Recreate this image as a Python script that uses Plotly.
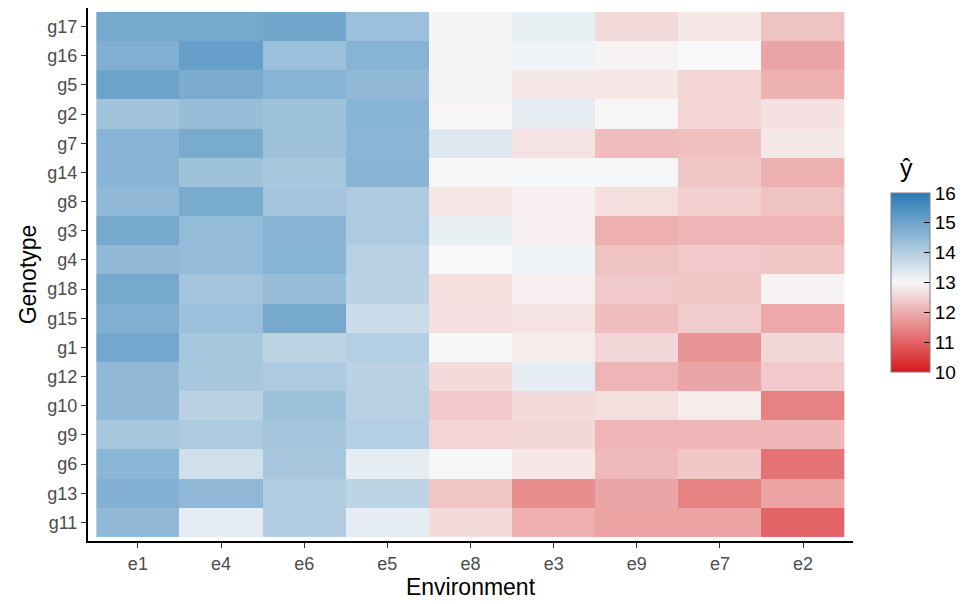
import plotly.graph_objects as go

environments = ["e1", "e4", "e6", "e5", "e8", "e3", "e9", "e7", "e2"]
genotypes_top_to_bottom = ["g17", "g16", "g5", "g2", "g7", "g14", "g8", "g3", "g4",
                           "g18", "g15", "g1", "g12", "g10", "g9", "g6", "g13", "g11"]

# predicted yield (y-hat), rows follow genotypes_top_to_bottom, columns follow environments
g17 = [15.4, 15.4, 15.5, 14.7, 13.1, 13.3, 12.5, 12.7, 12.1]
g16 = [15.2, 15.7, 14.7, 15.1, 13.1, 13.15, 12.9, 13.0, 11.6]
g5 = [15.6, 15.3, 15.1, 14.9, 13.1, 12.7, 12.7, 12.4, 11.8]
g2 = [14.6, 14.8, 14.65, 15.1, 12.95, 13.35, 12.95, 12.4, 12.6]
g7 = [15.05, 15.35, 14.65, 15.0, 13.5, 12.65, 12.0, 12.05, 12.7]
g14 = [15.05, 14.65, 14.5, 15.05, 13.02, 13.08, 13.08, 12.15, 11.8]
g8 = [14.9, 15.35, 14.55, 14.35, 12.7, 12.85, 12.55, 12.3, 12.1]
g3 = [15.4, 14.85, 15.05, 14.4, 13.3, 12.85, 11.75, 11.85, 11.85]
g4 = [14.9, 14.85, 15.1, 14.2, 13.0, 13.15, 12.1, 12.2, 12.15]
g18 = [15.4, 14.55, 14.8, 14.15, 12.55, 12.85, 12.2, 12.15, 12.92]
g15 = [15.2, 14.7, 15.4, 13.85, 12.6, 12.62, 12.0, 12.25, 11.65]
g1 = [15.45, 14.5, 14.1, 14.25, 12.97, 12.8, 12.45, 11.3, 12.45]
g12 = [14.9, 14.5, 14.35, 14.15, 12.5, 13.35, 11.85, 11.6, 12.2]
g10 = [14.9, 14.15, 14.65, 14.2, 12.2, 12.5, 12.55, 12.8, 11.0]
g9 = [14.5, 14.4, 14.55, 14.25, 12.4, 12.45, 11.85, 11.9, 11.9]
g6 = [15.0, 13.75, 14.5, 13.35, 12.97, 12.7, 11.95, 12.15, 10.75]
g13 = [15.15, 14.9, 14.3, 14.1, 12.15, 11.2, 11.6, 11.0, 11.55]
g11 = [14.9, 13.35, 14.3, 13.35, 12.5, 11.75, 11.55, 11.55, 10.5]

rows = [g17, g16, g5, g2, g7, g14, g8, g3, g4, g18, g15, g1, g12, g10, g9, g6, g13, g11]

# plotly puts the first category at the bottom, so reverse
y_cats = genotypes_top_to_bottom[::-1]
z = rows[::-1]

zmin, zmax = 10, 16
colorscale = [[0.0, "#D7191C"], [0.5, "#F7F7F7"], [1.0, "#2C7BB6"]]

FONT = "Liberation Sans, Arial, sans-serif"

fig = go.Figure(
    go.Heatmap(
        x=environments,
        y=y_cats,
        z=z,
        zmin=zmin,
        zmax=zmax,
        colorscale=colorscale,
        opacity=0.8,
        colorbar=dict(
            tickvals=[10, 11, 12, 13, 14, 15, 16],
            ticks="inside",
            ticklen=6,
            tickcolor="black",
            tickfont=dict(size=19, color="black", family=FONT),
            thickness=39,
            thicknessmode="pixels",
            len=179,
            lenmode="pixels",
            x=1.0495,
            xanchor="left",
            y=0.485,
            yanchor="middle",
            outlinecolor="#7f7f7f",
            outlinewidth=1,
            xpad=0,
            ypad=0,
        ),
        hovertemplate="%{x} %{y}: %{z}<extra></extra>",
    )
)

fig.update_layout(
    width=971,
    height=604,
    margin=dict(l=88, r=116, t=8, b=63),
    paper_bgcolor="white",
    plot_bgcolor="white",
    font=dict(family=FONT),
    annotations=[
        dict(
            text="ŷ",
            xref="paper",
            yref="paper",
            x=(909 - 88) / 767,
            y=(541 - 168) / 533,
            xanchor="center",
            yanchor="middle",
            showarrow=False,
            font=dict(size=25, color="black", family=FONT),
        )
    ],
)

fig.update_xaxes(
    type="category",
    categoryorder="array",
    categoryarray=environments,
    range=[-0.6, 8.6],
    showline=True,
    linecolor="black",
    linewidth=2,
    ticks="outside",
    ticklen=5,
    tickwidth=1.2,
    tickcolor="#333333",
    tickfont=dict(size=18, color="#4d4d4d"),
    title=dict(text="Environment", font=dict(size=23, color="black"), standoff=2),
    showgrid=False,
    zeroline=False,
)
fig.update_yaxes(
    type="category",
    categoryorder="array",
    categoryarray=y_cats,
    range=[-0.635, 17.635],
    showline=True,
    linecolor="black",
    linewidth=2,
    ticks="outside",
    ticklen=5,
    tickwidth=1.2,
    tickcolor="#333333",
    tickfont=dict(size=18, color="#4d4d4d"),
    title=dict(text="Genotype", font=dict(size=23, color="black"), standoff=4),
    showgrid=False,
    zeroline=False,
)

fig.write_html("out.html")
